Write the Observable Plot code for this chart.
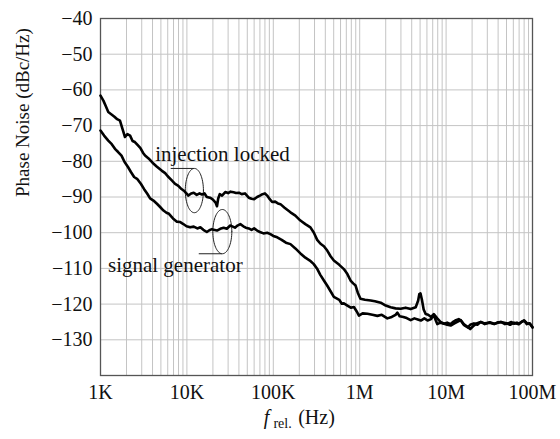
<!DOCTYPE html>
<html><head><meta charset="utf-8">
<script src="https://cdn.jsdelivr.net/npm/d3@7"></script>
<script src="https://cdn.jsdelivr.net/npm/@observablehq/plot@0.6"></script>
<style>body{margin:0;background:#fff}</style>
</head><body><div id="chart"></div>
<script>
// ---- data ----
const injFreq = [1000,1080,1150,1230,1330,1450,1560,1680,1800,1920,2050,2200,2350,2500,2700,2900,3100,3280,3600,4000,4500,5100,5600,6000,6600,7300,7900,8500,9400,10400,11200,12000,13000,14000,14900,16000,17000,18500,19500,20500,21500,22300,23000,24000,25500,27800,30000,32000,34700,37000,40000,43000,47000,52000,56000,60000,65000,70000,75000,80000,85000,91000,97000,105000,113000,121000,135000,158000,180000,206000,235000,269000,295000,322000,352000,385000,421000,460000,502000,580000,656000,720000,784000,840000,896000,950000,1020000,1150000,1340000,1500000,1750000,2000000,2280000,2600000,2980000,3400000,3890000,4450000,4750000,4900000,5050000,5250000,5500000,5800000,6200000,6700000,7200000,7900000,8600000,9500000,10300000,11300000,12200000,13000000,14000000,14800000,16000000,17800000,19000000,21000000,23000000,25000000,28000000,32000000,36000000,40000000,43000000,48000000,52000000,57000000,61000000,66000000,70000000,75000000,80000000,86000000,93000000,100000000];
const injDb = [-61.6,-63,-64.5,-66.2,-66.8,-67.5,-68.2,-68.6,-71,-73.2,-72.4,-72.8,-74.3,-74.6,-75.5,-76.3,-77.6,-78.4,-79.2,-80.4,-81.5,-82.6,-83.3,-84.2,-85.2,-86.3,-86.8,-87.6,-88.4,-89.6,-89.0,-88.8,-89.4,-89.0,-89.3,-89.0,-90.0,-90.2,-90.5,-91.0,-91.6,-92.6,-90.5,-89.2,-89.6,-88.6,-88.9,-88.5,-88.7,-88.9,-88.8,-89.2,-89.0,-90.2,-90.5,-90.6,-90.0,-89.6,-89.2,-89.0,-89.6,-90.6,-91.4,-91.3,-91.8,-92.0,-93.0,-94.3,-95.2,-96.6,-97.6,-98.5,-100.0,-102.0,-103.1,-103.8,-105.0,-106.6,-107.8,-109.0,-110.2,-111.6,-113.4,-114.2,-114.8,-116.8,-118.5,-118.8,-119.0,-119.2,-119.6,-120.4,-120.9,-121.2,-121.3,-121.0,-121.4,-120.9,-119.0,-117.2,-117.0,-118.8,-121.5,-122.8,-123.0,-123.6,-122.8,-124.0,-125.0,-125.5,-125.2,-125.6,-124.9,-124.5,-124.2,-124.6,-125.8,-126.5,-125.8,-125.4,-125.8,-125.0,-125.4,-125.2,-125.6,-125.1,-125.0,-125.6,-125.4,-125.0,-125.5,-125.2,-125.6,-124.9,-124.6,-125.6,-125.4,-126.6];

const genFreq = [1000,1100,1230,1350,1470,1600,1750,1900,2080,2250,2450,2650,2930,3200,3480,3750,4100,4500,4900,5360,5800,6200,6900,7660,8300,9000,9900,10900,12000,13200,14300,15500,17000,18200,19500,20400,22300,24300,26600,29000,31700,34000,36000,38500,41500,45000,48000,52000,56000,60000,65000,70000,77000,85000,92500,100000,111000,125000,140000,158000,180000,206000,235000,265000,294000,320000,350000,385000,420000,460000,502000,540000,580000,620000,656000,720000,790000,857000,920000,980000,1080000,1230000,1400000,1600000,1800000,2090000,2350000,2600000,2730000,2900000,3200000,3500000,3890000,4300000,4700000,5100000,5600000,6100000,6700000,7200000,7600000,7900000,8600000,9500000,10300000,11300000,12500000,13500000,14800000,16000000,17800000,19000000,20500000,22500000,25200000,28000000,32000000,36000000,43000000,50000000,55000000,61000000,68000000,75000000,80000000,87000000,94000000,100000000];
const genDb = [-71.4,-72.8,-74.2,-75.2,-76.5,-77.4,-78.4,-80.2,-81.6,-83.0,-84.4,-84.9,-86.3,-87.8,-89.1,-90.4,-91.0,-91.9,-92.8,-93.8,-94.4,-94.7,-96.0,-96.9,-97.0,-97.5,-98.2,-98.5,-98.3,-98.8,-98.5,-99.2,-99.8,-99.3,-99.0,-99.2,-99.4,-98.9,-98.6,-98.9,-98.0,-98.3,-98.6,-98.0,-97.6,-98.2,-98.6,-98.8,-99.2,-98.8,-99.4,-99.8,-100.2,-100.0,-100.4,-100.9,-101.3,-102.0,-102.8,-103.2,-104.4,-105.8,-107.0,-107.8,-108.8,-110.0,-111.8,-113.4,-114.8,-116.4,-118.0,-118.4,-118.8,-119.9,-119.8,-120.4,-121.0,-120.8,-122.0,-123.2,-122.6,-122.7,-123.0,-123.3,-123.0,-124.0,-123.6,-123.0,-122.4,-123.4,-123.6,-123.9,-124.5,-124.0,-124.3,-124.6,-124.0,-124.6,-124.2,-123.0,-124.6,-125.6,-125.2,-125.5,-125.8,-126.0,-125.4,-125.0,-124.5,-125.6,-126.4,-127.0,-126.2,-125.4,-125.0,-125.6,-125.1,-125.5,-125.0,-125.4,-125.8,-125.2,-125.6,-125.0,-124.6,-125.4,-125.6,-126.4];

const xTicks = [1e3,1e4,1e5,1e6,1e7,1e8];
const xTickLabels = ["1K","10K","100K","1M","10M","100M"];
const yTicks = [-40,-50,-60,-70,-80,-90,-100,-110,-120,-130];

// annotations
const annoText = ["injection locked","signal generator"];
const annoTextX = [4290, 1220];
const annoTextY = [-79.8, -110.9];
const ellCx = [12200, 25700];
const ellCy = [-88.2, -99.7];
const ellRxDec = [0.105, 0.11];
const ellRyDb = [6.2, 6.2];
const leadX1 = [6580, 13900];
const leadX2 = [12200, 25700];
const leadY = [-82.0, -105.9];

// ---- build ----
const inj = injFreq.map((f,i)=>({f, db: injDb[i]}));
const gen = genFreq.map((f,i)=>({f, db: genDb[i]}));
const minorGrid = [];
for (let e = 3; e < 8; e++) for (let k = 1; k <= 9; k++) minorGrid.push(k * 10 ** e);
minorGrid.push(1e8);
const ellipses = [];
ellCx.forEach((cx, j) => {
  for (let a = 0; a <= 72; a++) {
    const t = a / 72 * 2 * Math.PI;
    ellipses.push({id: j, f: cx * 10 ** (ellRxDec[j] * Math.cos(t)), db: ellCy[j] + ellRyDb[j] * Math.sin(t)});
  }
});
const annos = annoText.map((t,i)=>({t, f: annoTextX[i], db: annoTextY[i]}));
const leads = leadX1.map((x1,i)=>({x1, x2: leadX2[i], y: leadY[i]}));
const serif = "Liberation Serif";

const chart = Plot.plot({
  width: 560, height: 439,
  marginLeft: 100, marginRight: 28, marginTop: 18, marginBottom: 64,
  style: {fontFamily: serif, fontSize: "20px", color: "#111", background: "#fff"},
  x: {type: "log", domain: [1e3, 1e8], ticks: xTicks, tickFormat: d => xTickLabels[Math.round(Math.log10(d)) - 3], tickSize: 0, tickPadding: 9, label: null},
  y: {domain: [-140, -40], ticks: yTicks, tickFormat: d => "\u2212" + Math.abs(d), tickSize: 0, tickPadding: 8, label: null},
  marks: [
    Plot.ruleX(minorGrid, {stroke: "#c4c4c4", strokeWidth: 1}),
    Plot.ruleY(yTicks, {stroke: "#c4c4c4", strokeWidth: 1}),
    Plot.frame({stroke: "#555", strokeWidth: 1.3}),
    Plot.line(ellipses, {x: "f", y: "db", z: "id", stroke: "#222", strokeWidth: 1}),
    Plot.ruleY(leads, {x1: "x1", x2: "x2", y: "y", stroke: "#222", strokeWidth: 1}),
    Plot.line(inj, {x: "f", y: "db", stroke: "#000", strokeWidth: 2.6, strokeLinejoin: "round"}),
    Plot.line(gen, {x: "f", y: "db", stroke: "#000", strokeWidth: 2.6, strokeLinejoin: "round"}),
    Plot.text(annos, {x: "f", y: "db", text: "t", textAnchor: "start", lineAnchor: "bottom", fontSize: 21, fontFamily: serif, fill: "#111"}),
    Plot.text(["Phase Noise (dBc/Hz)"], {frameAnchor: "left", rotate: -90, dx: -78, fontSize: 19, fontFamily: serif, fill: "#111"}),
    Plot.text(["f"], {frameAnchor: "bottom", dx: -50, dy: 48, fontSize: 20, fontStyle: "italic", fontFamily: serif, fill: "#111"}),
    Plot.text(["rel."], {frameAnchor: "bottom", dx: -34, dy: 52, fontSize: 14, fontFamily: serif, fill: "#111"}),
    Plot.text(["(Hz)"], {frameAnchor: "bottom", dx: 0, dy: 48, fontSize: 20, fontFamily: serif, fill: "#111"})
  ]
});
document.getElementById("chart").appendChild(chart);
</script>
</body></html>
